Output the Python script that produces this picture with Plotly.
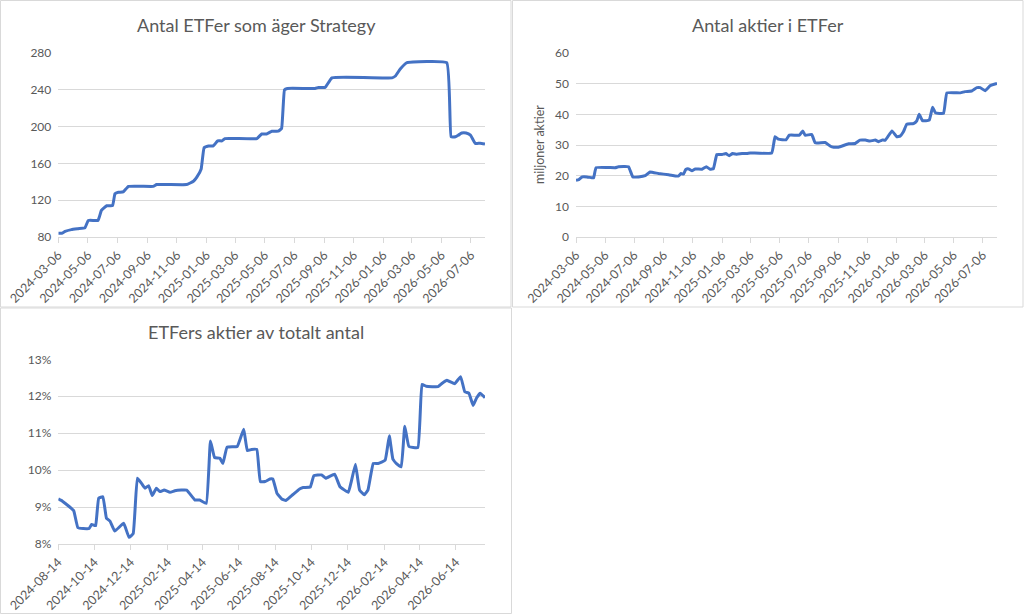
import plotly.graph_objects as go

W, H = 1024, 615

# --- Antal ETFer som äger Strategy ---
etf_dates = ["2024-03-06", "2024-03-13", "2024-03-20", "2024-04-02", "2024-04-16", "2024-04-30",
             "2024-05-07", "2024-05-27", "2024-06-03", "2024-06-14", "2024-06-26", "2024-07-01",
             "2024-07-08", "2024-07-18", "2024-07-29", "2024-09-18", "2024-09-25", "2024-11-26",
             "2024-12-10", "2024-12-17", "2024-12-26", "2025-01-01", "2025-01-10", "2025-01-20",
             "2025-01-29", "2025-02-07", "2025-02-13", "2025-04-20", "2025-04-30", "2025-05-10",
             "2025-05-21", "2025-06-03", "2025-06-10", "2025-06-16", "2025-06-22", "2025-08-18",
             "2025-08-25", "2025-09-08", "2025-09-22", "2026-01-24", "2026-01-31", "2026-02-10",
             "2026-02-24", "2026-05-17", "2026-05-26", "2026-06-04", "2026-06-10", "2026-06-17",
             "2026-06-26", "2026-07-05", "2026-07-15", "2026-07-25", "2026-08-04"]
etf_count = [84, 84, 86, 88, 89, 90,
             98, 98, 109, 114, 114, 127,
             128.6, 129, 135, 135, 137, 137,
             140.6, 145, 154, 177, 179, 179,
             184.5, 184.5, 187, 187, 192, 192,
             195, 195, 198, 240, 241.5, 241.5,
             242.6, 242.6, 253, 253, 255, 262.6,
             269.5, 269.5, 189, 189, 190.7, 193,
             193, 190.7, 181.6, 182, 181]

# --- Antal aktier i ETFer (miljoner) ---
sh_dates = ["2024-03-06", "2024-03-12", "2024-03-19", "2024-03-29", "2024-04-08", "2024-04-12",
            "2024-04-17", "2024-05-27", "2024-06-03", "2024-06-24", "2024-07-03", "2024-07-15",
            "2024-07-29", "2024-08-08", "2024-08-26", "2024-09-16", "2024-09-30", "2024-10-07",
            "2024-10-12", "2024-10-17", "2024-10-22", "2024-10-28", "2024-11-04", "2024-11-11",
            "2024-11-25", "2024-12-04", "2024-12-12", "2024-12-19", "2024-12-26", "2025-01-06",
            "2025-01-14", "2025-01-21", "2025-01-28", "2025-02-06", "2025-02-17", "2025-02-27",
            "2025-03-06", "2025-04-20", "2025-04-27", "2025-05-04", "2025-05-20", "2025-05-27",
            "2025-06-17", "2025-06-24", "2025-06-29", "2025-07-13", "2025-07-20", "2025-08-10",
            "2025-08-21", "2025-08-28", "2025-09-07", "2025-09-28", "2025-10-12", "2025-10-22",
            "2025-11-02", "2025-11-12", "2025-11-23", "2025-11-30", "2025-12-07", "2025-12-14",
            "2025-12-28", "2026-01-07", "2026-01-14", "2026-01-21", "2026-01-28", "2026-02-11",
            "2026-02-18", "2026-02-23", "2026-03-02", "2026-03-16", "2026-03-23", "2026-03-29",
            "2026-04-15", "2026-04-22", "2026-05-20", "2026-05-30", "2026-06-13", "2026-06-24",
            "2026-07-01", "2026-07-11", "2026-07-22", "2026-08-05"]
sh_millions = [18.5, 18.7, 19.6, 19.6, 19.3, 19.3,
               22.6, 22.6, 22.9, 22.9, 19.6, 19.6,
               20.0, 21.2, 20.7, 20.3, 19.9, 19.9,
               20.7, 20.5, 22.0, 22.2, 21.6, 22.2,
               22.1, 22.9, 22.1, 22.3, 26.9, 26.9,
               27.2, 26.5, 27.2, 27.0, 27.2, 27.2,
               27.4, 27.4, 32.7, 31.9, 31.7, 33.2,
               33.2, 34.6, 33.2, 33.4, 30.7, 30.8,
               29.6, 29.3, 29.3, 30.4, 30.5, 31.6,
               31.6, 31.3, 31.6, 31.1, 31.6, 31.6,
               34.6, 32.7, 32.9, 34.3, 36.8, 37.0,
               37.9, 40.0, 37.9, 38.1, 42.3, 40.5,
               40.3, 47.0, 47.0, 47.4, 47.6, 48.7,
               48.7, 47.7, 49.4, 50.1]

# --- ETFers aktier av totalt antal (%) ---
pct_dates = ["2024-08-14", "2024-08-21", "2024-08-28", "2024-09-04", "2024-09-09", "2024-09-16",
             "2024-09-25", "2024-10-05", "2024-10-09", "2024-10-14", "2024-10-16", "2024-10-21",
             "2024-10-28", "2024-11-03", "2024-11-09", "2024-11-17", "2024-12-02", "2024-12-11",
             "2024-12-18", "2024-12-25", "2025-01-01", "2025-01-07", "2025-01-13", "2025-01-19",
             "2025-01-26", "2025-02-01", "2025-02-08", "2025-02-18", "2025-02-26", "2025-03-09",
             "2025-03-18", "2025-04-01", "2025-04-09", "2025-04-20", "2025-04-27", "2025-05-04",
             "2025-05-13", "2025-05-18", "2025-05-25", "2025-06-11", "2025-06-22", "2025-06-28",
             "2025-07-05", "2025-07-14", "2025-07-20", "2025-07-28", "2025-08-05", "2025-08-10",
             "2025-08-17", "2025-08-25", "2025-09-01", "2025-09-13", "2025-09-24", "2025-09-30",
             "2025-10-12", "2025-10-18", "2025-10-31", "2025-11-07", "2025-11-22", "2025-12-01",
             "2025-12-15", "2025-12-20", "2025-12-27", "2026-01-03", "2026-01-11", "2026-01-17",
             "2026-01-26", "2026-02-03", "2026-02-15", "2026-02-22", "2026-02-28", "2026-03-07",
             "2026-03-14", "2026-03-20", "2026-03-27", "2026-04-11", "2026-04-18", "2026-04-25",
             "2026-05-15", "2026-05-22", "2026-05-30", "2026-06-12", "2026-06-22", "2026-06-29",
             "2026-07-06", "2026-07-13", "2026-07-19", "2026-07-25", "2026-08-02"]
pct_share = [9.22, 9.16, 9.07, 8.98, 8.90, 8.44,
             8.42, 8.42, 8.53, 8.50, 8.50, 9.24,
             9.28, 8.70, 8.62, 8.35, 8.56, 8.18,
             8.28, 9.78, 9.64, 9.51, 9.58, 9.31,
             9.51, 9.42, 9.46, 9.40, 9.44, 9.46,
             9.46, 9.19, 9.19, 9.10, 10.79, 10.34,
             10.32, 10.18, 10.62, 10.64, 11.11, 10.53,
             10.56, 10.56, 9.69, 9.69, 9.76, 9.76,
             9.37, 9.22, 9.18, 9.34, 9.49, 9.53,
             9.54, 9.85, 9.87, 9.78, 9.89, 9.55,
             9.40, 9.69, 10.16, 9.46, 9.33, 9.46,
             10.18, 10.18, 10.27, 10.93, 10.30, 10.16,
             10.09, 11.19, 10.64, 10.61, 12.32, 12.27,
             12.26, 12.35, 12.43, 12.34, 12.53, 12.12,
             12.08, 11.75, 11.96, 12.08, 11.96]

ticks_top = ["2024-03-06", "2024-05-06", "2024-07-06", "2024-09-06", "2024-11-06",
             "2025-01-06", "2025-03-06", "2025-05-06", "2025-07-06", "2025-09-06",
             "2025-11-06", "2026-01-06", "2026-03-06", "2026-05-06", "2026-07-06"]
ticks_bottom = ["2024-08-14", "2024-10-14", "2024-12-14", "2025-02-14", "2025-04-14",
                "2025-06-14", "2025-08-14", "2025-10-14", "2025-12-14", "2026-02-14",
                "2026-04-14", "2026-06-14"]

BLUE = "#4472C4"
GREY = "#595959"
LINE = "#d9d9d9"
FONT = "Lato"


def px(x):
    return x / W


def py(y):
    return 1 - y / H


fig = go.Figure()
for xs, ys, xa, ya in [(etf_dates, etf_count, "x", "y"),
                       (sh_dates, sh_millions, "x2", "y2"),
                       (pct_dates, pct_share, "x3", "y3")]:
    fig.add_trace(go.Scatter(x=xs, y=ys, mode="lines", xaxis=xa, yaxis=ya,
                             line=dict(color=BLUE, width=3, shape="spline", smoothing=0.3)))


def xax(dom, ticks, rng, anchor):
    return dict(domain=dom, anchor=anchor, type="date", range=rng, automargin=False,
                tickmode="array", tickvals=ticks, ticktext=ticks, tickangle=-45,
                showgrid=False, showline=True, linecolor=LINE, linewidth=1,
                ticks="outside", ticklen=5, tickcolor=LINE,
                tickfont=dict(family=FONT, size=12.5, color=GREY))


def yax(dom, rng, dtick, anchor, suffix=""):
    return dict(domain=dom, anchor=anchor, range=rng, dtick=dtick, tick0=0, automargin=False,
                showgrid=True, gridcolor=LINE, gridwidth=1, zeroline=False,
                showline=False, ticksuffix=suffix, ticklabelstandoff=6,
                tickfont=dict(family=FONT, size=12, color=GREY))


top_y = [py(237), py(53)]
bot_y = [py(544), py(359.3)]

fig.update_layout(
    width=W, height=H,
    margin=dict(l=0, r=0, t=0, b=0),
    paper_bgcolor="white", plot_bgcolor="white",
    showlegend=False,
    font=dict(family=FONT, color=GREY),
    xaxis=xax([px(58.3), px(485)], ticks_top, ["2024-03-06", "2026-08-04"], "y"),
    yaxis=yax(top_y, [80, 280], 40, "x"),
    xaxis2=xax([px(576), px(997)], ticks_top, ["2024-03-06", "2026-08-05"], "y2"),
    yaxis2=yax(top_y, [0, 60], 10, "x2"),
    xaxis3=xax([px(58.3), px(485)], ticks_bottom, ["2024-08-14", "2026-08-02"], "y3"),
    yaxis3=yax(bot_y, [8, 13], 1, "x3", "%"),
)

# panel borders
for x0, y0, x1, y1 in [(0.5, 0.5, 511, 307), (512.5, 0.5, 1023, 307), (0.5, 308, 511.5, 613.5)]:
    fig.add_shape(type="rect", xref="paper", yref="paper",
                  x0=px(x0), x1=px(x1), y0=py(y0), y1=py(y1),
                  line=dict(color=LINE, width=1), fillcolor="rgba(0,0,0,0)")

titles = [("Antal ETFer som äger Strategy", 256, 25),
          ("Antal aktier i ETFer", 768, 25),
          ("ETFers aktier av totalt antal", 256, 332)]
for text, x, y in titles:
    fig.add_annotation(text=text, xref="paper", yref="paper", x=px(x), y=py(y),
                       xanchor="center", yanchor="middle", showarrow=False,
                       font=dict(family=FONT, size=18, color=GREY))

fig.add_annotation(text="miljoner aktier", xref="paper", yref="paper", x=px(539), y=py(145),
                   xanchor="center", yanchor="middle", textangle=-90, showarrow=False,
                   font=dict(family=FONT, size=12.5, color=GREY))

# sidan ska inte ha någon marginal runt figuren
fig.write_html("out.html", config={"displayModeBar": False},
               post_script="document.body.style.margin='0';")
